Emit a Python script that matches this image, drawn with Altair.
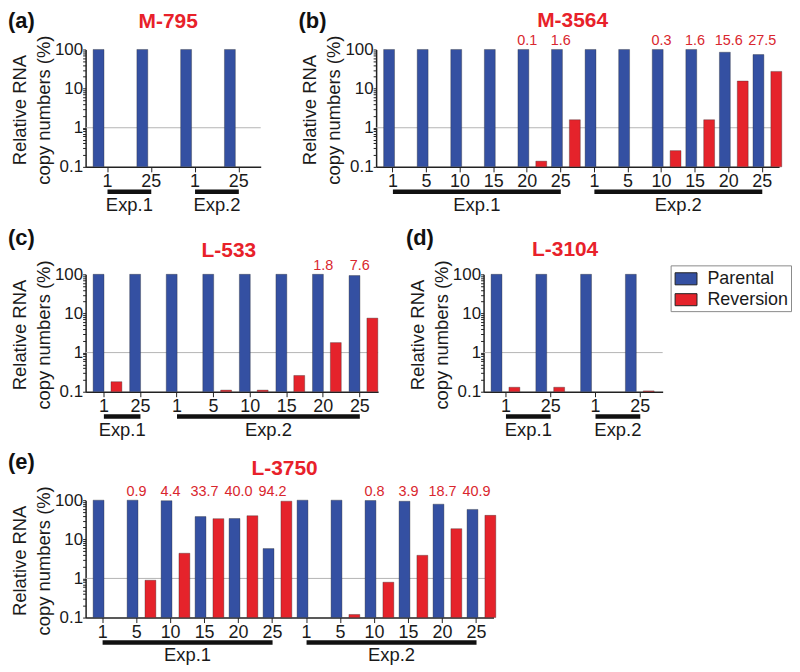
import altair as alt
import pandas as pd

FONT = "Liberation Sans"
SERIES = ["Parental", "Reversion"]
SERIES_COLORS = ["#3450a2", "#e5232b"]
TITLE_RED = "#e8212a"
VALUE_RED = "#d9262e"
INK = "#1a1a1a"
H = 118

Y_MAJOR = [0.1, 1, 10, 100]
Y_MAJOR_LABELS = ["0.1", "1", "10", "100"]
Y_MINOR = [0.2, 0.3, 0.4, 0.5, 0.6, 0.7, 0.8, 0.9,
           2, 3, 4, 5, 6, 7, 8, 9,
           20, 30, 40, 50, 60, 70, 80, 90]
Y_TITLE = ["Relative RNA", "copy numbers (%)"]
GUIDE_LINE = [1]

# (a) M-795
a_exp = ["Exp.1", "Exp.1", "Exp.2", "Exp.2"]
a_day = ["1", "25", "1", "25"]
a_parental = [100, 100, 100, 100]
a_reversion = [None, None, None, None]
a_label = ["", "", "", ""]

# (b) M-3564
b_exp = ["Exp.1", "Exp.1", "Exp.1", "Exp.1", "Exp.1", "Exp.1",
         "Exp.2", "Exp.2", "Exp.2", "Exp.2", "Exp.2", "Exp.2"]
b_day = ["1", "5", "10", "15", "20", "25", "1", "5", "10", "15", "20", "25"]
b_parental = [100, 100, 100, 100, 100, 100, 100, 100, 100, 100, 85, 74]
b_reversion = [None, None, None, None, 0.14, 1.6, None, None, 0.26, 1.6, 15.6, 27.5]
b_label = ["", "", "", "", "0.1", "1.6", "", "", "0.3", "1.6", "15.6", "27.5"]

# (c) L-533
c_exp = ["Exp.1", "Exp.1", "Exp.2", "Exp.2", "Exp.2", "Exp.2", "Exp.2", "Exp.2"]
c_day = ["1", "25", "1", "5", "10", "15", "20", "25"]
c_parental = [100, 100, 100, 100, 100, 100, 100, 93]
c_reversion = [0.18, None, None, 0.11, 0.11, 0.26, 1.8, 7.6]
c_label = ["", "", "", "", "", "", "1.8", "7.6"]

# (d) L-3104
d_exp = ["Exp.1", "Exp.1", "Exp.2", "Exp.2"]
d_day = ["1", "25", "1", "25"]
d_parental = [100, 100, 100, 100]
d_reversion = [0.13, 0.13, None, 0.105]
d_label = ["", "", "", ""]

# (e) L-3750
e_exp = ["Exp.1", "Exp.1", "Exp.1", "Exp.1", "Exp.1", "Exp.1",
         "Exp.2", "Exp.2", "Exp.2", "Exp.2", "Exp.2", "Exp.2"]
e_day = ["1", "5", "10", "15", "20", "25", "1", "5", "10", "15", "20", "25"]
e_parental = [100, 100, 97, 38, 34, 5.8, 100, 100, 98, 94, 79, 58]
e_reversion = [None, 0.9, 4.4, 33.7, 40.0, 94.2, None, 0.12, 0.8, 3.9, 18.7, 40.9]
e_label = ["", "0.9", "4.4", "33.7", "40.0", "94.2", "", "", "0.8", "3.9", "18.7", "40.9"]

yscale = alt.Scale(type="log", domain=[0.1, 100], nice=False)
label_expr = " : ".join(
    f"datum.value == {v} ? '{t}'" for v, t in zip(Y_MAJOR, Y_MAJOR_LABELS)
) + " : ''"

yaxis = alt.Axis(
    values=Y_MAJOR + Y_MINOR, labelExpr=label_expr, labelOverlap=False,
    title=None,
    labelFontSize=17, labelFont=FONT, labelColor=INK, labelPadding=0,
    tickSize=3, tickColor="#222", tickWidth=1,
    domainColor="#222", domainWidth=1.5, grid=False,
)
xaxis = alt.Axis(
    labelExpr="split(datum.value, '-')[1]", labelAngle=0, labelFontSize=18,
    labelFont=FONT, labelColor=INK, labelPadding=1, tickSize=5, tickColor="#222",
    tickWidth=1, domainColor="#222", domainWidth=1.5, grid=False, title=None,
)

color = alt.Color(
    "series:N",
    scale=alt.Scale(domain=SERIES, range=SERIES_COLORS),
    legend=alt.Legend(
        title=None, orient="none", legendX=588, legendY=217,
        symbolType="M-1,-0.55H1V0.55H-1Z", symbolSize=484, symbolOffset=2,
        symbolStrokeColor="#222", symbolStrokeWidth=1, symbolOpacity=1,
        labelFontSize=18, labelFont=FONT, labelColor=INK, labelOffset=10,
        strokeColor="#8a8a8a", padding=2, rowPadding=0,
    ),
)


def text_layer(txt, x, y, **kw):
    return alt.Chart(pd.DataFrame({"t": [txt]})).mark_text(font=FONT, **kw).encode(
        x=alt.value(x), y=alt.value(y), text="t:N"
    )


def panel(letter, title, exps, days, par, rev, lab, width, pin, pout,
          title_dx, title_y, letter_y):
    cats = [f"{e}-{d}" for e, d in zip(exps, days)]
    step = width / len(cats)
    xscale = alt.Scale(domain=cats, paddingInner=0, paddingOuter=0)

    rows = []
    for c, p, r in zip(cats, par, rev):
        rows.append({"cat": c, "series": "Parental", "value": p})
        if r is not None:
            rows.append({"cat": c, "series": "Reversion", "value": r})
    bar_df = pd.DataFrame(rows)

    layers = []
    guide = alt.Chart(pd.DataFrame({"v": GUIDE_LINE})).mark_rule(
        color="#b4b4b4", strokeWidth=1
    ).encode(y=alt.Y("v:Q", scale=yscale, axis=yaxis))
    layers.append(guide)

    bars = alt.Chart(bar_df).mark_bar(
        stroke="#2b2b2b", strokeWidth=0.5, strokeOpacity=0.7
    ).encode(
        x=alt.X("cat:N", scale=xscale, sort=None, axis=xaxis, title=None),
        xOffset=alt.XOffset(
            "series:N",
            scale=alt.Scale(domain=SERIES, paddingInner=pin, paddingOuter=pout),
        ),
        y=alt.Y("value:Q", scale=yscale, axis=yaxis, stack=None),
        y2=alt.datum(0.1),
        color=color,
    )
    layers.append(bars)

    ann = [{"cat": c, "label": l} for c, l in zip(cats, lab) if l]
    if ann:
        layers.append(
            alt.Chart(pd.DataFrame(ann)).mark_text(
                color=VALUE_RED, fontSize=14.5, font=FONT, baseline="alphabetic"
            ).encode(
                x=alt.X("cat:N", scale=xscale, sort=None, axis=xaxis, title=None),
                y=alt.value(-4),
                text="label:N",
            )
        )

    groups = []
    for e in dict.fromkeys(exps):
        idx = [i for i, x in enumerate(exps) if x == e]
        groups.append({"exp": e, "first": cats[idx[0]], "last": cats[idx[-1]],
                       "span": idx[-1] - idx[0]})
    gdf = pd.DataFrame(groups)
    layers.append(
        alt.Chart(gdf).mark_rule(strokeWidth=4.5, color="#111", strokeCap="butt").encode(
            x=alt.X("first:N", scale=xscale, sort=None, axis=xaxis, title=None,
                    bandPosition=0.5),
            x2=alt.X2("last:N", bandPosition=0.5),
            y=alt.value(H + 25),
        )
    )
    for g in groups:
        layers.append(
            alt.Chart(pd.DataFrame([g])).mark_text(
                fontSize=18.5, font=FONT, color=INK, baseline="alphabetic",
                dx=g["span"] * step / 2,
            ).encode(
                x=alt.X("first:N", scale=xscale, sort=None, axis=xaxis, title=None),
                y=alt.value(H + 44),
                text="exp:N",
            )
        )

    # y-axis title, two lines
    layers.append(text_layer(Y_TITLE[0], -60, H / 2 + 2, angle=270, fontSize=18.5,
                             color=INK, baseline="alphabetic", align="center"))
    layers.append(text_layer(Y_TITLE[1], -36, H / 2 + 2, angle=270, fontSize=18.5,
                             color=INK, baseline="alphabetic", align="center"))
    layers.append(text_layer(title, width / 2 + title_dx, title_y, fontSize=21,
                             fontWeight="bold", color=TITLE_RED,
                             baseline="alphabetic", align="center"))
    layers.append(text_layer(letter, -78, letter_y, fontSize=22, fontWeight="bold",
                             color="#111", baseline="alphabetic", align="left"))
    return alt.layer(*layers).properties(width=width, height=H)


pa = panel("(a)", "M-795", a_exp, a_day, a_parental, a_reversion, a_label,
           176, 0.39, 0.42, -5, -22, -22)
pb = panel("(b)", "M-3564", b_exp, b_day, b_parental, b_reversion, b_label,
           405, 0.31, 0.46, -5, -22.5, -22)
pc = panel("(c)", "L-533", c_exp, c_day, c_parental, c_reversion, c_label,
           294, 0.33, 0.39, -3, -17, -29.5)
pd_ = panel("(d)", "L-3104", d_exp, d_day, d_parental, d_reversion, d_label,
            180, 0.39, 0.42, -8, -18, -29.5)
pe = panel("(e)", "L-3750", e_exp, e_day, e_parental, e_reversion, e_label,
           410, 0.25, 0.55, -5, -25, -31)

row1 = alt.hconcat(pa, pb, spacing=116, bounds="flush")
row2 = alt.hconcat(pc, pd_, spacing=106, bounds="flush")
top_rows = alt.vconcat(row1, row2, spacing=12)

chart = alt.vconcat(top_rows, pe, spacing=12, padding=0).configure_view(stroke=None)

chart.save("out.html", embed_options={"renderer": "svg", "actions": False})
